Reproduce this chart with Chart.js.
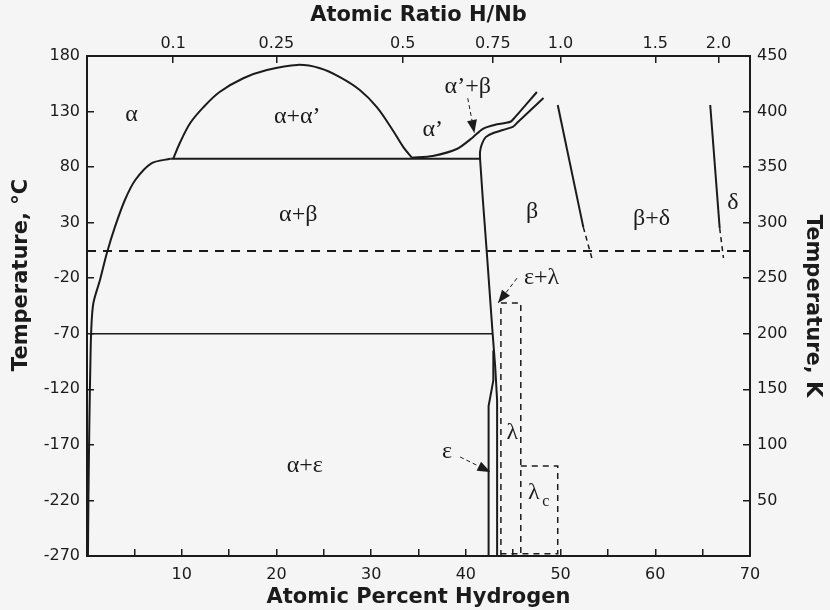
<!DOCTYPE html>
<html>
<head>
<meta charset="utf-8">
<script src="https://cdn.jsdelivr.net/npm/chart.js@4.4.1/dist/chart.umd.min.js"></script>
<style>
  html, body { margin: 0; padding: 0; background: #f5f5f5; }
  #wrap { width: 830px; height: 610px; }
</style>
</head>
<body>
<div id="wrap"><canvas id="phaseChart" width="830" height="610"></canvas></div>
<script>
const INK = '#1b1b1b';

// axis ticks
const xTicks = [0, 5, 10, 15, 20, 25, 30, 35, 40, 45, 50, 55, 60, 65, 70];
const xLabels = [10, 20, 30, 40, 50, 60, 70];
const ratioTicks = [0.1, 0.25, 0.5, 0.75, 1.0, 1.5, 2.0];
const ratioLabels = ['0.1', '0.25', '0.5', '0.75', '1.0', '1.5', '2.0'];
const tempTicksC = [-270, -220, -170, -120, -70, -20, 30, 80, 130, 180];
const tempTicksK = [50, 100, 150, 200, 250, 300, 350, 400, 450];

// phase boundaries, [atomic % H, temperature °C]
const alphaSolvus = [[0.1, -270], [0.15, -220], [0.25, -150], [0.35, -100], [0.45, -66], [0.67, -42.5],
  [1.37, -21.6], [2.1, 2.7], [2.96, 26.4], [4.0, 50.4], [5.1, 68.4], [6.8, 83.4], [8.8, 87.5]];
const domeAlpha = [[9.1, 87.5], [9.8, 101.7], [10.9, 119.7], [12.3, 134], [14.0, 147.6], [16.5, 160],
  [19.0, 167.4], [22.2, 172], [24.6, 169], [26.7, 161], [28.8, 149.4], [30.6, 134], [32.3, 113],
  [33.4, 98], [34.3, 88.5]];
const alphaPrime = [[34.3, 88.5], [36.5, 90], [39.1, 96.5], [40.7, 106.5], [41.8, 114.5], [43.3, 118.5],
  [44.7, 120.8], [45.2, 125], [47.5, 147.6]];
const betaUpper = [[48.2, 142.2], [45.5, 120.6], [45.0, 116.5], [42.9, 110.7], [42.1, 107], [41.7, 101],
  [41.5, 94], [41.5, 87.3]];
const betaLower = [[41.5, 87.3], [41.8, 50], [42.2, 4.5], [42.8, -66.6], [43.1, -100], [43.3, -130], [43.3, -270]];
const epsilonLine = [[42.9, -85], [42.9, -112], [42.4, -135], [42.4, -270]];
const plateau88 = [[8.8, 87.5], [41.5, 87.5]];
const plateau70 = [[0.45, -70], [42.85, -70]];
const roomTemp = [[0, 4.5], [70, 4.5]];
const betaDelta = [[49.7, 135.9], [52.4, 26]];
const betaDeltaDash = [[52.4, 26], [53.3, -1.8]];
const deltaLine = [[65.8, 135.9], [66.8, 25]];
const deltaLineDash = [[66.8, 25], [67.2, -1.8]];
const lambdaBox = [[43.7, -270], [43.7, -42.3], [45.8, -42.3], [45.8, -270]];
const lambdaCBox = [[45.8, -189], [49.7, -189], [49.7, -268], [43.7, -268]];

// arrows [tail, tip]
const arrows = [
  [[40.2, 142], [40.9, 110.7]],
  [[45.4, -20], [43.4, -42.3]],
  [[39.4, -180.9], [42.6, -194.4]]
];

// phase labels [text, atomic % H, °C]
const phaseLabels = [
  ['α', 4.7, 126.9],
  ['α+α’', 22.2, 125],
  ['α’', 36.5, 113.4],
  ['α’+β', 40.2, 152],
  ['α+β', 22.3, 37],
  ['β', 47.0, 39.6],
  ['β+δ', 59.6, 34],
  ['δ', 68.2, 47.7],
  ['ε+λ', 48.0, -19.8],
  ['λ', 44.9, -159],
  ['ε', 38.0, -176.4],
  ['α+ε', 23.0, -189]
];
const lambdaCLabel = [47.6, -213];

function line(data, opts = {}) {
  return Object.assign({
    data: data.map(p => ({x: p[0], y: p[1]})),
    showLine: true, pointRadius: 0, borderColor: INK, borderWidth: 2,
    tension: 0, fill: false
  }, opts);
}

const datasets = [
  line(alphaSolvus, {tension: 0.3}),
  line(domeAlpha, {tension: 0.35}),
  line(alphaPrime, {tension: 0.25}),
  line(betaUpper, {tension: 0.25}),
  line(betaLower),
  line(epsilonLine),
  line(plateau88),
  line(plateau70, {borderWidth: 1.6}),
  line(roomTemp, {borderDash: [9, 7], borderWidth: 2}),
  line(betaDelta),
  line(betaDeltaDash, {borderDash: [5, 4], borderWidth: 1.5}),
  line(deltaLine),
  line(deltaLineDash, {borderDash: [5, 4], borderWidth: 1.5}),
  line(lambdaBox, {borderDash: [6, 5], borderWidth: 1.5}),
  line(lambdaCBox, {borderDash: [6, 5], borderWidth: 1.5})
];
arrows.forEach(a => datasets.push(line(a, {borderDash: [4, 3], borderWidth: 1})));

const annotate = {
  id: 'annotate',
  beforeDraw(chart) {
    const {ctx} = chart;
    ctx.save();
    ctx.fillStyle = '#f5f5f5';
    ctx.fillRect(0, 0, chart.width, chart.height);
    ctx.restore();
  },
  afterDatasetsDraw(chart) {
    const {ctx, scales: {x, y}} = chart;
    ctx.save();
    ctx.fillStyle = INK;
    // arrow heads
    arrows.forEach(([t0, t1]) => {
      const x0 = x.getPixelForValue(t0[0]), y0 = y.getPixelForValue(t0[1]);
      const x1 = x.getPixelForValue(t1[0]), y1 = y.getPixelForValue(t1[1]);
      const a = Math.atan2(y1 - y0, x1 - x0);
      const len = 13, hw = 5;
      ctx.beginPath();
      ctx.moveTo(x1, y1);
      ctx.lineTo(x1 - len * Math.cos(a) + hw * Math.sin(a), y1 - len * Math.sin(a) - hw * Math.cos(a));
      ctx.lineTo(x1 - len * Math.cos(a) - hw * Math.sin(a), y1 - len * Math.sin(a) + hw * Math.cos(a));
      ctx.closePath();
      ctx.fill();
    });
    // phase labels
    ctx.font = '24px "Liberation Serif", "DejaVu Serif", serif';
    ctx.textAlign = 'center';
    ctx.textBaseline = 'middle';
    phaseLabels.forEach(([t, px, py]) => ctx.fillText(t, x.getPixelForValue(px), y.getPixelForValue(py)));
    const lx = x.getPixelForValue(lambdaCLabel[0]), ly = y.getPixelForValue(lambdaCLabel[1]);
    ctx.fillText('λ', lx - 4, ly);
    ctx.font = '16px "Liberation Serif", "DejaVu Serif", serif';
    ctx.fillText('c', lx + 8, ly + 9);
    ctx.restore();
  },
  afterDraw(chart) {
    const {ctx} = chart;
    ctx.save();
    ctx.translate(22, 275);
    ctx.rotate(-Math.PI / 2);
    ctx.font = 'bold 21px "DejaVu Sans"';
    ctx.fillStyle = INK;
    ctx.textAlign = 'center';
    ctx.textBaseline = 'middle';
    ctx.fillText('Temperature, °C', 0, 0);
    ctx.restore();
  }
};

const tickFont = {family: 'DejaVu Sans', size: 16};
const titleFont = {family: 'DejaVu Sans', size: 21, weight: 'bold'};
const gridOpts = {drawOnChartArea: false, tickLength: -7, color: INK, lineWidth: 1.5};
const borderOpts = {color: INK, width: 2};

new Chart(document.getElementById('phaseChart'), {
  type: 'scatter',
  data: {datasets},
  options: {
    responsive: false,
    animation: false,
    devicePixelRatio: 1,
    layout: {padding: 0},
    plugins: {legend: {display: false}, tooltip: {enabled: false}},
    scales: {
      x: {
        type: 'linear', position: 'bottom', min: 0, max: 70,
        afterBuildTicks: s => { s.ticks = xTicks.map(v => ({value: v})); },
        ticks: {callback: v => xLabels.includes(v) ? String(v) : '', padding: 16, font: tickFont, color: INK,
          autoSkip: false, maxRotation: 0},
        grid: gridOpts, border: borderOpts,
        title: {display: true, text: 'Atomic Percent Hydrogen', font: titleFont, color: INK, padding: {top: 0, bottom: 0}},
        afterFit: s => { s.height = 54; }
      },
      x2: {
        type: 'linear', position: 'top', min: 0, max: 70,
        afterBuildTicks: s => { s.ticks = ratioTicks.map(r => ({value: 100 * r / (1 + r)})); },
        ticks: {callback: (v, i) => ratioLabels[i], padding: 10, font: tickFont, color: INK, autoSkip: false, maxRotation: 0},
        grid: gridOpts, border: borderOpts,
        title: {display: true, text: 'Atomic Ratio H/Nb', font: titleFont, color: INK, padding: {top: 3, bottom: 0}},
        afterFit: s => { s.height = 56; }
      },
      y: {
        type: 'linear', position: 'left', min: -270, max: 180,
        afterBuildTicks: s => { s.ticks = tempTicksC.map(v => ({value: v})); },
        ticks: {padding: 14, font: tickFont, color: INK, autoSkip: false},
        grid: gridOpts, border: borderOpts,
        afterFit: s => { s.width = 87; }
      },
      y2: {
        type: 'linear', position: 'right', min: 0, max: 450,
        afterBuildTicks: s => { s.ticks = tempTicksK.map(v => ({value: v})); },
        ticks: {padding: 14, font: tickFont, color: INK, autoSkip: false},
        grid: gridOpts, border: borderOpts,
        title: {display: true, text: 'Temperature, K', font: titleFont, color: INK, padding: {top: 5, bottom: 0}},
        afterFit: s => { s.width = 80; }
      }
    }
  },
  plugins: [annotate]
});
</script>
</body>
</html>
